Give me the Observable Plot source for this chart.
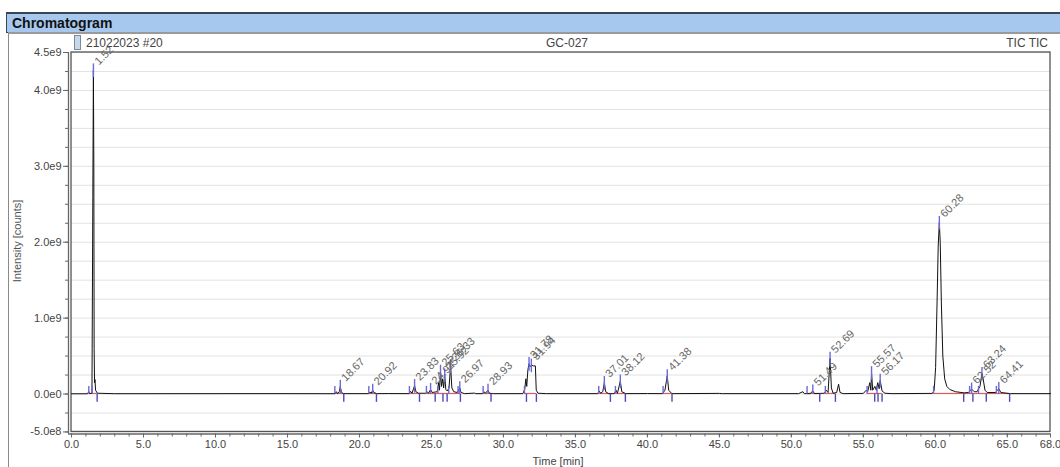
<!DOCTYPE html>
<html>
<head>
<meta charset="utf-8">
<script src="https://cdn.jsdelivr.net/npm/d3@7"></script>
<script src="https://cdn.jsdelivr.net/npm/@observablehq/plot@0.6"></script>
<style>
  html, body { margin: 0; padding: 0; background: #fff; }
  body { width: 1060px; height: 467px; position: relative; overflow: hidden; font-family: "Liberation Sans", Arial, sans-serif; }
  .abs { position: absolute; white-space: nowrap; }
  #header { left: 6px; top: 12px; width: 1060px; height: 18px; background: #a6c8ee; border-top: 2px solid #3c4650; border-bottom: 1px solid #3c4650; border-left: 1px solid #3c4650; }
  #header span { position: absolute; left: 5px; top: 0px; font-weight: bold; font-size: 14px; color: #111; line-height: 19px; }
  #panel { left: 8px; top: 32px; width: 1060px; height: 440px; border: 1px solid #8a8a8a; border-top: 2px solid #9a9a9a; background: #fff; }
  #chart { left: 0; top: 0; }
  .t12 { font-size: 12px; color: #444; }
</style>
</head>
<body>
<div id="header" class="abs"><span>Chromatogram</span></div>
<div id="panel" class="abs"></div>
<div id="chart" class="abs"></div>
<div class="abs" style="left:74px;top:35px;width:5px;height:13px;border:1px solid #7a8a9a;background:#c8d8ec;"></div>
<div class="abs t12" style="left:86px;top:36px;">21022023 #20</div>
<div class="abs t12" style="left:567px;top:36px;transform:translateX(-50%);">GC-027</div>
<div class="abs t12" style="right:12px;top:36px;">TIC TIC</div>
<div class="abs" style="left:17px;top:241px;font-size:11px;color:#555;transform:translate(-50%,-50%) rotate(-90deg);">Intensity [counts]</div>
<div class="abs" style="left:558px;top:455px;font-size:11px;color:#444;transform:translateX(-50%);">Time [min]</div>
<script>
// ---- data ----
// chromatogram trace: [time (min), intensity (counts)]
const trace = [
  [0, 0.003e9], [1.10, 0.003e9], [1.20, 0.03e9], [1.26, 0.005e9], [1.42, 0.01e9],
  [1.48, 2.6e9], [1.52, 4.27e9], [1.55, 3.0e9], [1.57, 0.6e9], [1.60, 0.15e9],
  [1.63, 0.19e9], [1.67, 0.05e9], [1.80, 0.01e9], [3.0, 0.004e9], [14.0, 0.005e9],
  [18.3, 0.004e9], [18.40, 0.03e9], [18.48, 0.005e9], [18.60, 0.03e9], [18.67, 0.10e9],
  [18.74, 0.03e9], [18.85, 0.005e9], [20.65, 0.005e9], [20.74, 0.025e9], [20.82, 0.01e9],
  [20.92, 0.05e9], [21.0, 0.02e9], [21.2, 0.005e9], [22.0, 0.006e9], [23.45, 0.005e9],
  [23.55, 0.035e9], [23.65, 0.01e9], [23.83, 0.11e9], [23.92, 0.03e9], [24.1, 0.01e9],
  [24.6, 0.01e9], [24.7, 0.03e9], [24.8, 0.01e9], [24.94, 0.06e9], [25.05, 0.02e9],
  [25.40, 0.03e9], [25.50, 0.15e9], [25.56, 0.05e9], [25.63, 0.30e9], [25.70, 0.10e9],
  [25.78, 0.20e9], [25.85, 0.08e9], [25.92, 0.25e9], [26.00, 0.06e9], [26.10, 0.04e9],
  [26.22, 0.08e9], [26.33, 0.37e9], [26.42, 0.08e9], [26.55, 0.03e9], [26.80, 0.02e9],
  [26.97, 0.08e9], [27.05, 0.02e9], [27.3, 0.005e9], [28.0, 0.012e9], [28.08, 0.005e9],
  [28.55, 0.005e9], [28.65, 0.03e9], [28.75, 0.01e9], [28.93, 0.05e9], [29.02, 0.01e9],
  [29.3, 0.005e9], [31.35, 0.005e9], [31.48, 0.06e9], [31.56, 0.20e9], [31.62, 0.10e9],
  [31.70, 0.32e9], [31.78, 0.40e9], [31.85, 0.36e9], [31.94, 0.38e9], [32.10, 0.37e9],
  [32.22, 0.37e9], [32.28, 0.05e9], [32.40, 0.01e9], [33.0, 0.005e9], [36.55, 0.005e9],
  [36.65, 0.04e9], [36.75, 0.01e9], [36.90, 0.03e9], [37.01, 0.15e9], [37.10, 0.03e9],
  [37.3, 0.005e9], [37.7, 0.005e9], [37.82, 0.05e9], [37.92, 0.01e9], [38.12, 0.17e9],
  [38.22, 0.03e9], [38.5, 0.005e9], [40.0, 0.006e9], [41.05, 0.005e9], [41.22, 0.05e9],
  [41.38, 0.24e9], [41.48, 0.05e9], [41.7, 0.005e9], [45.0, 0.008e9], [45.2, 0.005e9],
  [50.5, 0.005e9], [50.8, 0.03e9], [50.9, 0.005e9], [51.3, 0.005e9], [51.49, 0.04e9],
  [51.6, 0.005e9], [52.30, 0.01e9], [52.42, 0.05e9], [52.55, 0.02e9], [52.69, 0.47e9],
  [52.78, 0.08e9], [52.90, 0.01e9], [53.15, 0.02e9], [53.28, 0.13e9], [53.38, 0.02e9],
  [53.6, 0.005e9], [55.0, 0.008e9], [55.20, 0.05e9], [55.30, 0.03e9], [55.45, 0.15e9],
  [55.52, 0.05e9], [55.57, 0.28e9], [55.65, 0.05e9], [55.80, 0.10e9], [55.90, 0.05e9],
  [56.00, 0.15e9], [56.10, 0.07e9], [56.17, 0.18e9], [56.30, 0.04e9], [56.5, 0.01e9],
  [57.0, 0.005e9], [59.80, 0.008e9], [59.92, 0.05e9], [60.02, 0.35e9], [60.12, 1.2e9],
  [60.20, 1.95e9], [60.28, 2.26e9], [60.34, 2.0e9], [60.42, 1.2e9], [60.52, 0.5e9],
  [60.65, 0.2e9], [60.80, 0.10e9], [61.00, 0.06e9], [61.4, 0.03e9], [62.0, 0.015e9],
  [62.30, 0.02e9], [62.45, 0.05e9], [62.52, 0.065e9], [62.70, 0.03e9], [62.90, 0.03e9],
  [63.10, 0.10e9], [63.24, 0.27e9], [63.32, 0.20e9], [63.45, 0.05e9], [63.6, 0.02e9],
  [64.20, 0.02e9], [64.30, 0.05e9], [64.41, 0.07e9], [64.55, 0.02e9], [65.2, 0.005e9],
  [68.0, 0.005e9]
];

// labelled peaks: retention time and apex intensity
const peakTimes   = [1.52, 18.67, 20.92, 23.83, 24.94, 25.63, 25.92, 26.33, 26.97, 28.93, 31.78, 31.94, 37.01, 38.12, 41.38, 51.49, 52.69, 55.57, 56.17, 60.28, 62.52, 63.24, 64.41];
const peakHeights = [4.27e9, 0.10e9, 0.05e9, 0.11e9, 0.06e9, 0.30e9, 0.25e9, 0.37e9, 0.08e9, 0.05e9, 0.40e9, 0.38e9, 0.15e9, 0.17e9, 0.24e9, 0.04e9, 0.47e9, 0.28e9, 0.18e9, 2.26e9, 0.065e9, 0.27e9, 0.07e9];

// peak start markers (blue, above baseline) and peak end markers (below baseline)
const startMarks = [1.20, 1.44, 18.29, 20.65, 23.47, 24.65, 25.45, 26.20, 26.85, 28.59, 31.46, 36.62, 37.78, 41.09, 51.09, 52.36, 55.26, 55.95, 59.88, 62.38, 63.00, 64.24];
const endMarks   = [1.78, 18.91, 21.18, 24.17, 25.26, 25.80, 26.09, 27.01, 29.14, 31.60, 32.29, 37.43, 38.47, 41.71, 51.97, 53.06, 55.79, 56.02, 56.30, 61.97, 62.61, 63.54, 65.16];

// integration baselines (start, end)
const baseStarts = [1.20, 18.29, 20.65, 23.47, 24.65, 28.59, 31.46, 36.62, 37.78, 41.09, 51.09, 52.36, 55.26, 59.88, 61.97];
const baseEnds   = [1.78, 18.91, 21.18, 24.17, 27.01, 29.14, 32.29, 37.43, 38.47, 41.71, 51.97, 53.06, 56.30, 61.97, 65.16];

// axis ticks
const xMajorTicks = [0, 5, 10, 15, 20, 25, 30, 35, 40, 45, 50, 55, 60, 65, 68];
const xMinorTicks = d3.range(0, 69, 1);
const yLabelTicks = [4.5e9, 4.0e9, 3.0e9, 2.0e9, 1.0e9, 0, -5e8];
const yLabelTexts = ["4.5e9", "4.0e9", "3.0e9", "2.0e9", "1.0e9", "0.0e0", "-5.0e8"];
const yMinorTicks = d3.range(-0.5e9, 4.5e9 + 1, 0.25e9);

// frame / axis extents
const xMin = -0.21, xMax = 68.0, yMin = -0.527e9, yMax = 4.5e9, frameBottom = -0.5e9;

// ---- build ----
const peaks = peakTimes.map((t, i) => ({rt: t, h: peakHeights[i]}));
const bases = baseStarts.map((s, i) => ({x1: s, x2: baseEnds[i]}));
const yLabelMap = new Map(yLabelTicks.map((v, i) => [v, yLabelTexts[i]]));

const plot = Plot.plot({
  width: 1060,
  height: 467,
  marginLeft: 68,
  marginRight: 10,
  marginTop: 52,
  marginBottom: 33.5,
  style: {background: "transparent", fontFamily: "Liberation Sans, Arial, sans-serif", color: "#444", overflow: "visible"},
  x: {domain: [xMin, xMax]},
  y: {domain: [yMin, yMax]},
  marks: [
    // horizontal gridlines
    Plot.ruleY(yMinorTicks, {x1: 0, x2: xMax, stroke: "#e2e2e2", strokeWidth: 1}),
    // plot frame
    Plot.rect([0], {x1: () => 0, x2: () => xMax, y1: () => frameBottom, y2: () => yMax, fill: "none", stroke: "#555", strokeWidth: 1.3}),
    // axis lines
    Plot.ruleX([xMin], {y1: yMin, y2: yMax, stroke: "#666", strokeWidth: 1.3}),
    Plot.ruleY([yMin], {x1: xMin, x2: xMax, stroke: "#666", strokeWidth: 1.3}),
    // axes
    Plot.axisY(yMinorTicks, {tickSize: 3, tickFormat: () => "", label: null, stroke: "#666"}),
    Plot.axisY(yLabelTicks, {tickSize: 5, tickPadding: 2, tickFormat: d => yLabelMap.get(d), label: null, fontSize: 11, fill: "#444", stroke: "#666"}),
    Plot.axisX(xMinorTicks, {tickSize: 3, tickFormat: () => "", label: null, stroke: "#666"}),
    Plot.axisX(xMajorTicks, {tickSize: 4, tickPadding: 2, tickFormat: d => d.toFixed(1), label: null, fontSize: 11, fill: "#444", stroke: "#666"}),
    // integration baselines
    Plot.ruleY(bases, {x1: "x1", x2: "x2", y: () => 0.008e9, stroke: "#e04848", strokeWidth: 1}),
    // trace
    Plot.line(trace, {x: d => d[0], y: d => d[1], stroke: "#111", strokeWidth: 1}),
    // markers
    Plot.ruleX(startMarks, {y1: () => 0, y2: () => 0.1e9, stroke: "#6a6ad8", strokeWidth: 1.4}),
    Plot.ruleX(peaks, {x: "rt", y1: d => Math.max(0, d.h - 0.1e9), y2: d => d.h + 0.08e9, stroke: "#6a6ad8", strokeWidth: 1.4}),
    Plot.ruleX(endMarks, {y1: () => 0, y2: () => -0.11e9, stroke: "#5548b0", strokeWidth: 1.4}),
    // peak labels
    Plot.text(peaks, {x: "rt", y: "h", text: d => d.rt.toFixed(2), rotate: -45, textAnchor: "start", dx: 3, dy: -7, fontSize: 11, fill: "#666"})
  ]
});
document.getElementById("chart").appendChild(plot);
</script>
</body>
</html>
